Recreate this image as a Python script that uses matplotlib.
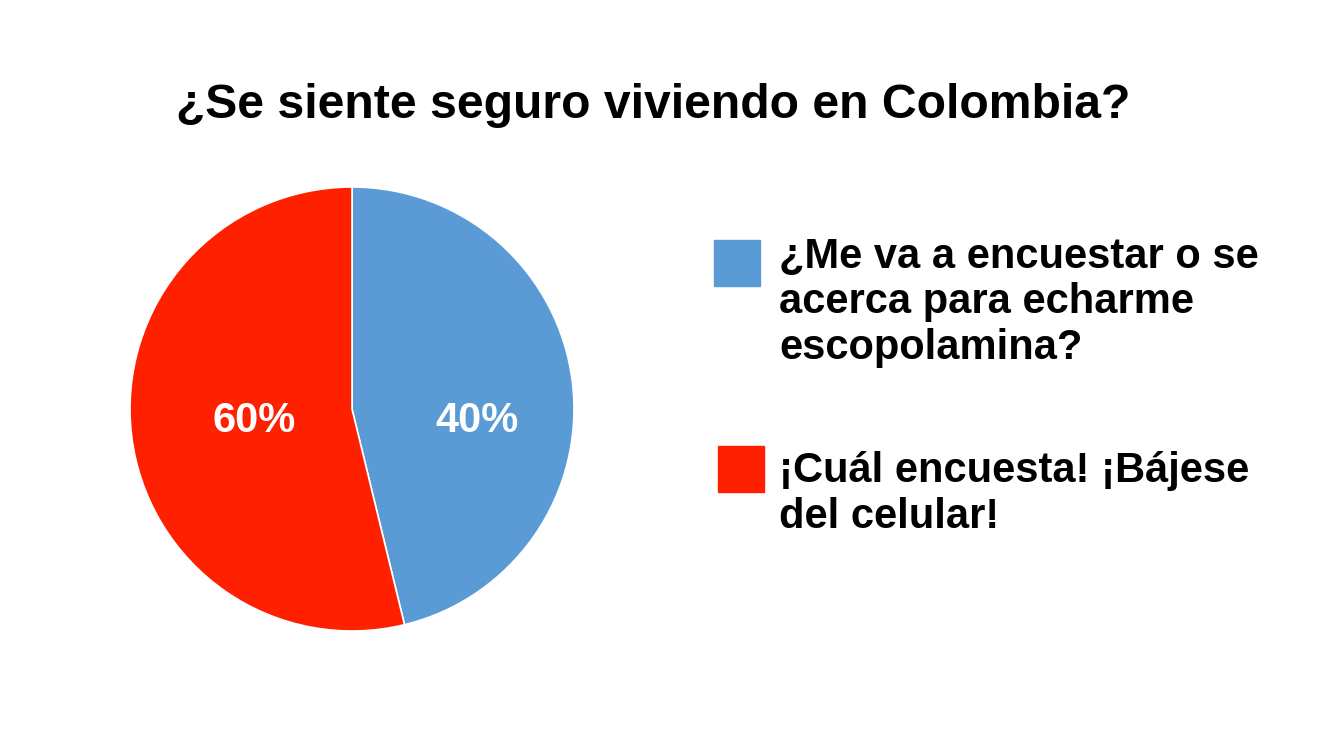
import numpy as np
import matplotlib.pyplot as plt
from matplotlib.patches import Rectangle

plt.rcParams['font.family'] = ['Liberation Sans', 'DejaVu Sans']

title = '¿Se siente seguro viviendo en Colombia?'
categories = [['¿Me va a encuestar o se', 'acerca para echarme', 'escopolamina?'],
              ['¡Cuál encuesta! ¡Bájese', 'del celular!']]
# slice sizes as drawn in the picture, labels as printed on it
sizes = [46.2, 53.8]
pct_labels = ['40%', '60%']
colors = ['#5b9bd5', '#ff2000']

W, H = 1325, 745
fig = plt.figure(figsize=(W / 100, H / 100), dpi=100)
fig.patch.set_facecolor('white')

ax = fig.add_axes([130 / W, (H - 631) / H, 444 / W, 444 / H])
wedges, _ = ax.pie(sizes, colors=colors, startangle=90, counterclock=False,
                   radius=1, wedgeprops=dict(edgecolor='white', linewidth=1.2))
ax.set_xlim(-1, 1)
ax.set_ylim(-1, 1)
ax.set_aspect('equal')

# percent labels inside slices
lab_pos = [(0.565, -0.055), (-0.44, -0.055)]
for (x, y), lab in zip(lab_pos, pct_labels):
    ax.text(x, y, lab, color='white', fontsize=30, fontweight='bold',
            ha='center', va='center')

fig.text(176 / W, (H - 118) / H, title, ha='left', va='baseline',
         fontsize=34.7, fontweight='bold')

# legend
sq = [(714, 240), (718, 446)]
first_base = [268, 482]
for (sx, sy), base, c, lines in zip(sq, first_base, colors, categories):
    fig.add_artist(Rectangle((sx / W, (H - sy - 46) / H), 46 / W, 46 / H,
                             color=c, transform=fig.transFigure))
    for i, line in enumerate(lines):
        fig.text(779 / W, (H - base - 45.5 * i) / H, line, ha='left',
                 va='baseline', fontsize=30, fontweight='bold')

fig.savefig('out.png', dpi=100)
